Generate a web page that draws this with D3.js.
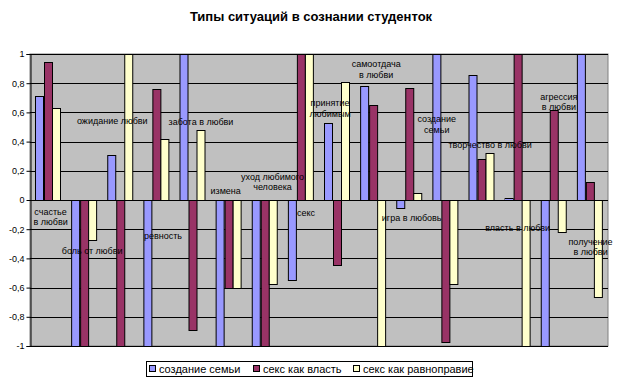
<!DOCTYPE html>
<html>
<head>
<meta charset="utf-8">
<script src="https://cdn.jsdelivr.net/npm/d3@7/dist/d3.min.js"></script>
<style>
  body { margin: 0; background: #fff; }
  svg { font-family: "Liberation Sans", Arial, sans-serif; }
</style>
</head>
<body>
<div id="chart-area"></div>
<script>
// chart data
const categories = [
    "счастье в любви", "боль от любви", "ожидание любви", "ревность",
    "забота в любви", "измена", "уход любимого человека", "секс",
    "принятие любимым", "самоотдача в любви", "игра в любовь", "создание семьи",
    "творчество в любви", "власть в любви", "агрессия в любви", "получение в любви"
];
const seriesNames = ["создание семьи", "секс как власть", "секс как равноправие"];
const family = [0.71, -1, 0.31, -1, 1, -1, -1, -0.55, 0.525, 0.78, -0.057, 1, 0.855, 0.012, -1, 1];
const sexPower = [0.945, -1, -1, 0.76, -0.89, -0.6, -1, 1, -0.447, 0.65, 0.765, -0.975, 0.28, 1, 0.616, 0.12];
const sexEqual = [0.63, -0.275, 1, 0.415, 0.477, -0.605, -0.577, 1, 0.806, -1, 0.05, -0.577, 0.32, -1, -0.221, -0.666];
const yTicks = [-1, -0.8, -0.6, -0.4, -0.2, 0, 0.2, 0.4, 0.6, 0.8, 1];

// label lines as they are broken in the picture
const labelLines = [
    ["счастье", "в любви"], ["боль от любви"], ["ожидание любви"], ["ревность"],
    ["забота в любви"], ["измена"], ["уход любимого", "человека"], ["секс"],
    ["принятие", "любимым"], ["самоотдача", "в любви"], ["игра в любовь"], ["создание", "семьи"],
    ["творчество в любви"], ["власть в любви"], ["агрессия", "в любви"], ["получение", "в любви"]
];
// label placement: [shift from category centre in px, y value of first line]
const labelPlace = [
    [2.5, -0.08], [8, -0.347], [-8, 0.543], [6.6, -0.247],
    [8.4, 0.536], [-3, 0.064], [7.7, 0.16], [5, -0.091],
    [-7, 0.662], [3, 0.929], [2.4, -0.125], [-8.7, 0.553],
    [8.5, 0.375], [0, -0.194], [5, 0.708], [0.6, -0.286]
];

const colors = ["#9999FF", "#993366", "#FFFFCC"];

const main = () => {
    const chartSize = { width: 621, height: 386 };
    const plot = { left: 30, right: 608, top: 54, bottom: 346 };

    const svg = d3.select("#chart-area")
        .append("svg")
        .attr("width", chartSize.width)
        .attr("height", chartSize.height);

    svg.append("text")
        .text("Типы ситуаций в сознании студенток")
        .attr("x", 311)
        .attr("y", 21)
        .attr("text-anchor", "middle")
        .attr("font-size", "13px")
        .attr("font-weight", "bold");

    const x = d3.scaleBand().domain(categories).range([plot.left, plot.right]);
    const x1 = d3.scaleBand().domain(seriesNames).range([0, x.bandwidth()]).paddingOuter(0.65);
    const y = d3.scaleLinear().domain([-1, 1]).range([plot.bottom, plot.top]);

    svg.append("rect")
        .attr("x", plot.left)
        .attr("y", plot.top)
        .attr("width", plot.right - plot.left)
        .attr("height", plot.bottom - plot.top)
        .attr("fill", "#C0C0C0")
        .attr("stroke", "#808080");

    svg.append("g")
        .selectAll("line")
        .data(yTicks)
        .join("line")
        .attr("x1", plot.left)
        .attr("x2", plot.right)
        .attr("y1", d => Math.round(y(d)) + 0.5)
        .attr("y2", d => Math.round(y(d)) + 0.5)
        .attr("stroke", "#000");

    const locale = d3.formatLocale({ decimal: ",", thousands: " ", grouping: [3], currency: ["", ""], minus: "-" });
    const fmt = locale.format("~g");
    const yAxis = d3.axisLeft(y).tickValues(yTicks).tickFormat(fmt).tickSize(4).tickPadding(2);
    const ga = svg.append("g")
        .attr("transform", `translate(${plot.left + 0.5}, 0)`)
        .call(yAxis);
    ga.select(".domain").attr("stroke", "#000");
    ga.selectAll("text").attr("font-size", "9px").attr("fill", "#000")
        .attr("font-family", "Liberation Sans, Arial, sans-serif");

    const table = categories.map((c, i) => ({ cat: c, vals: [family[i], sexPower[i], sexEqual[i]] }));
    const clamp = v => Math.max(-1, Math.min(1, v));

    svg.append("g")
        .selectAll("g")
        .data(table)
        .join("g")
        .attr("transform", d => `translate(${x(d.cat)}, 0)`)
        .selectAll("rect")
        .data(d => d.vals.map((v, k) => ({ s: seriesNames[k], v: clamp(v), k })))
        .join("rect")
        .attr("x", d => Math.round(x1(d.s)) + 0.5)
        .attr("width", Math.round(x1.bandwidth()))
        .attr("y", d => Math.round(y(Math.max(0, d.v))) + 0.5)
        .attr("height", d => Math.abs(Math.round(y(d.v)) - Math.round(y(0))))
        .attr("fill", d => colors[d.k])
        .attr("stroke", "#000");

    // zero line on top
    svg.append("line")
        .attr("x1", plot.left).attr("x2", plot.right)
        .attr("y1", Math.round(y(0)) + 0.5).attr("y2", Math.round(y(0)) + 0.5)
        .attr("stroke", "#000");

    const labels = svg.append("g").attr("font-size", "9px").attr("text-anchor", "middle");
    labelLines.forEach((lines, i) => {
        const t = labels.append("text")
            .attr("x", x(categories[i]) + x.bandwidth() / 2 + labelPlace[i][0])
            .attr("y", y(labelPlace[i][1]) + 3);
        lines.forEach((ln, j) => {
            t.append("tspan")
                .attr("x", x(categories[i]) + x.bandwidth() / 2 + labelPlace[i][0])
                .attr("dy", j === 0 ? 0 : 10.5)
                .text(ln);
        });
    });

    // legend
    const lg = svg.append("g");
    lg.append("rect")
        .attr("x", 146.5).attr("y", 361.5)
        .attr("width", 326).attr("height", 15)
        .attr("fill", "#fff").attr("stroke", "#000");
    const legendX = [149, 253, 353];
    seriesNames.forEach((s, k) => {
        lg.append("rect")
            .attr("x", legendX[k] + 0.5).attr("y", 365.5)
            .attr("width", 6).attr("height", 6)
            .attr("fill", colors[k]).attr("stroke", "#000");
        lg.append("text")
            .attr("x", legendX[k] + 10).attr("y", 373)
            .attr("font-size", "11px")
            .text(s);
    });
};

window.onload = main;
</script>
</body>
</html>
